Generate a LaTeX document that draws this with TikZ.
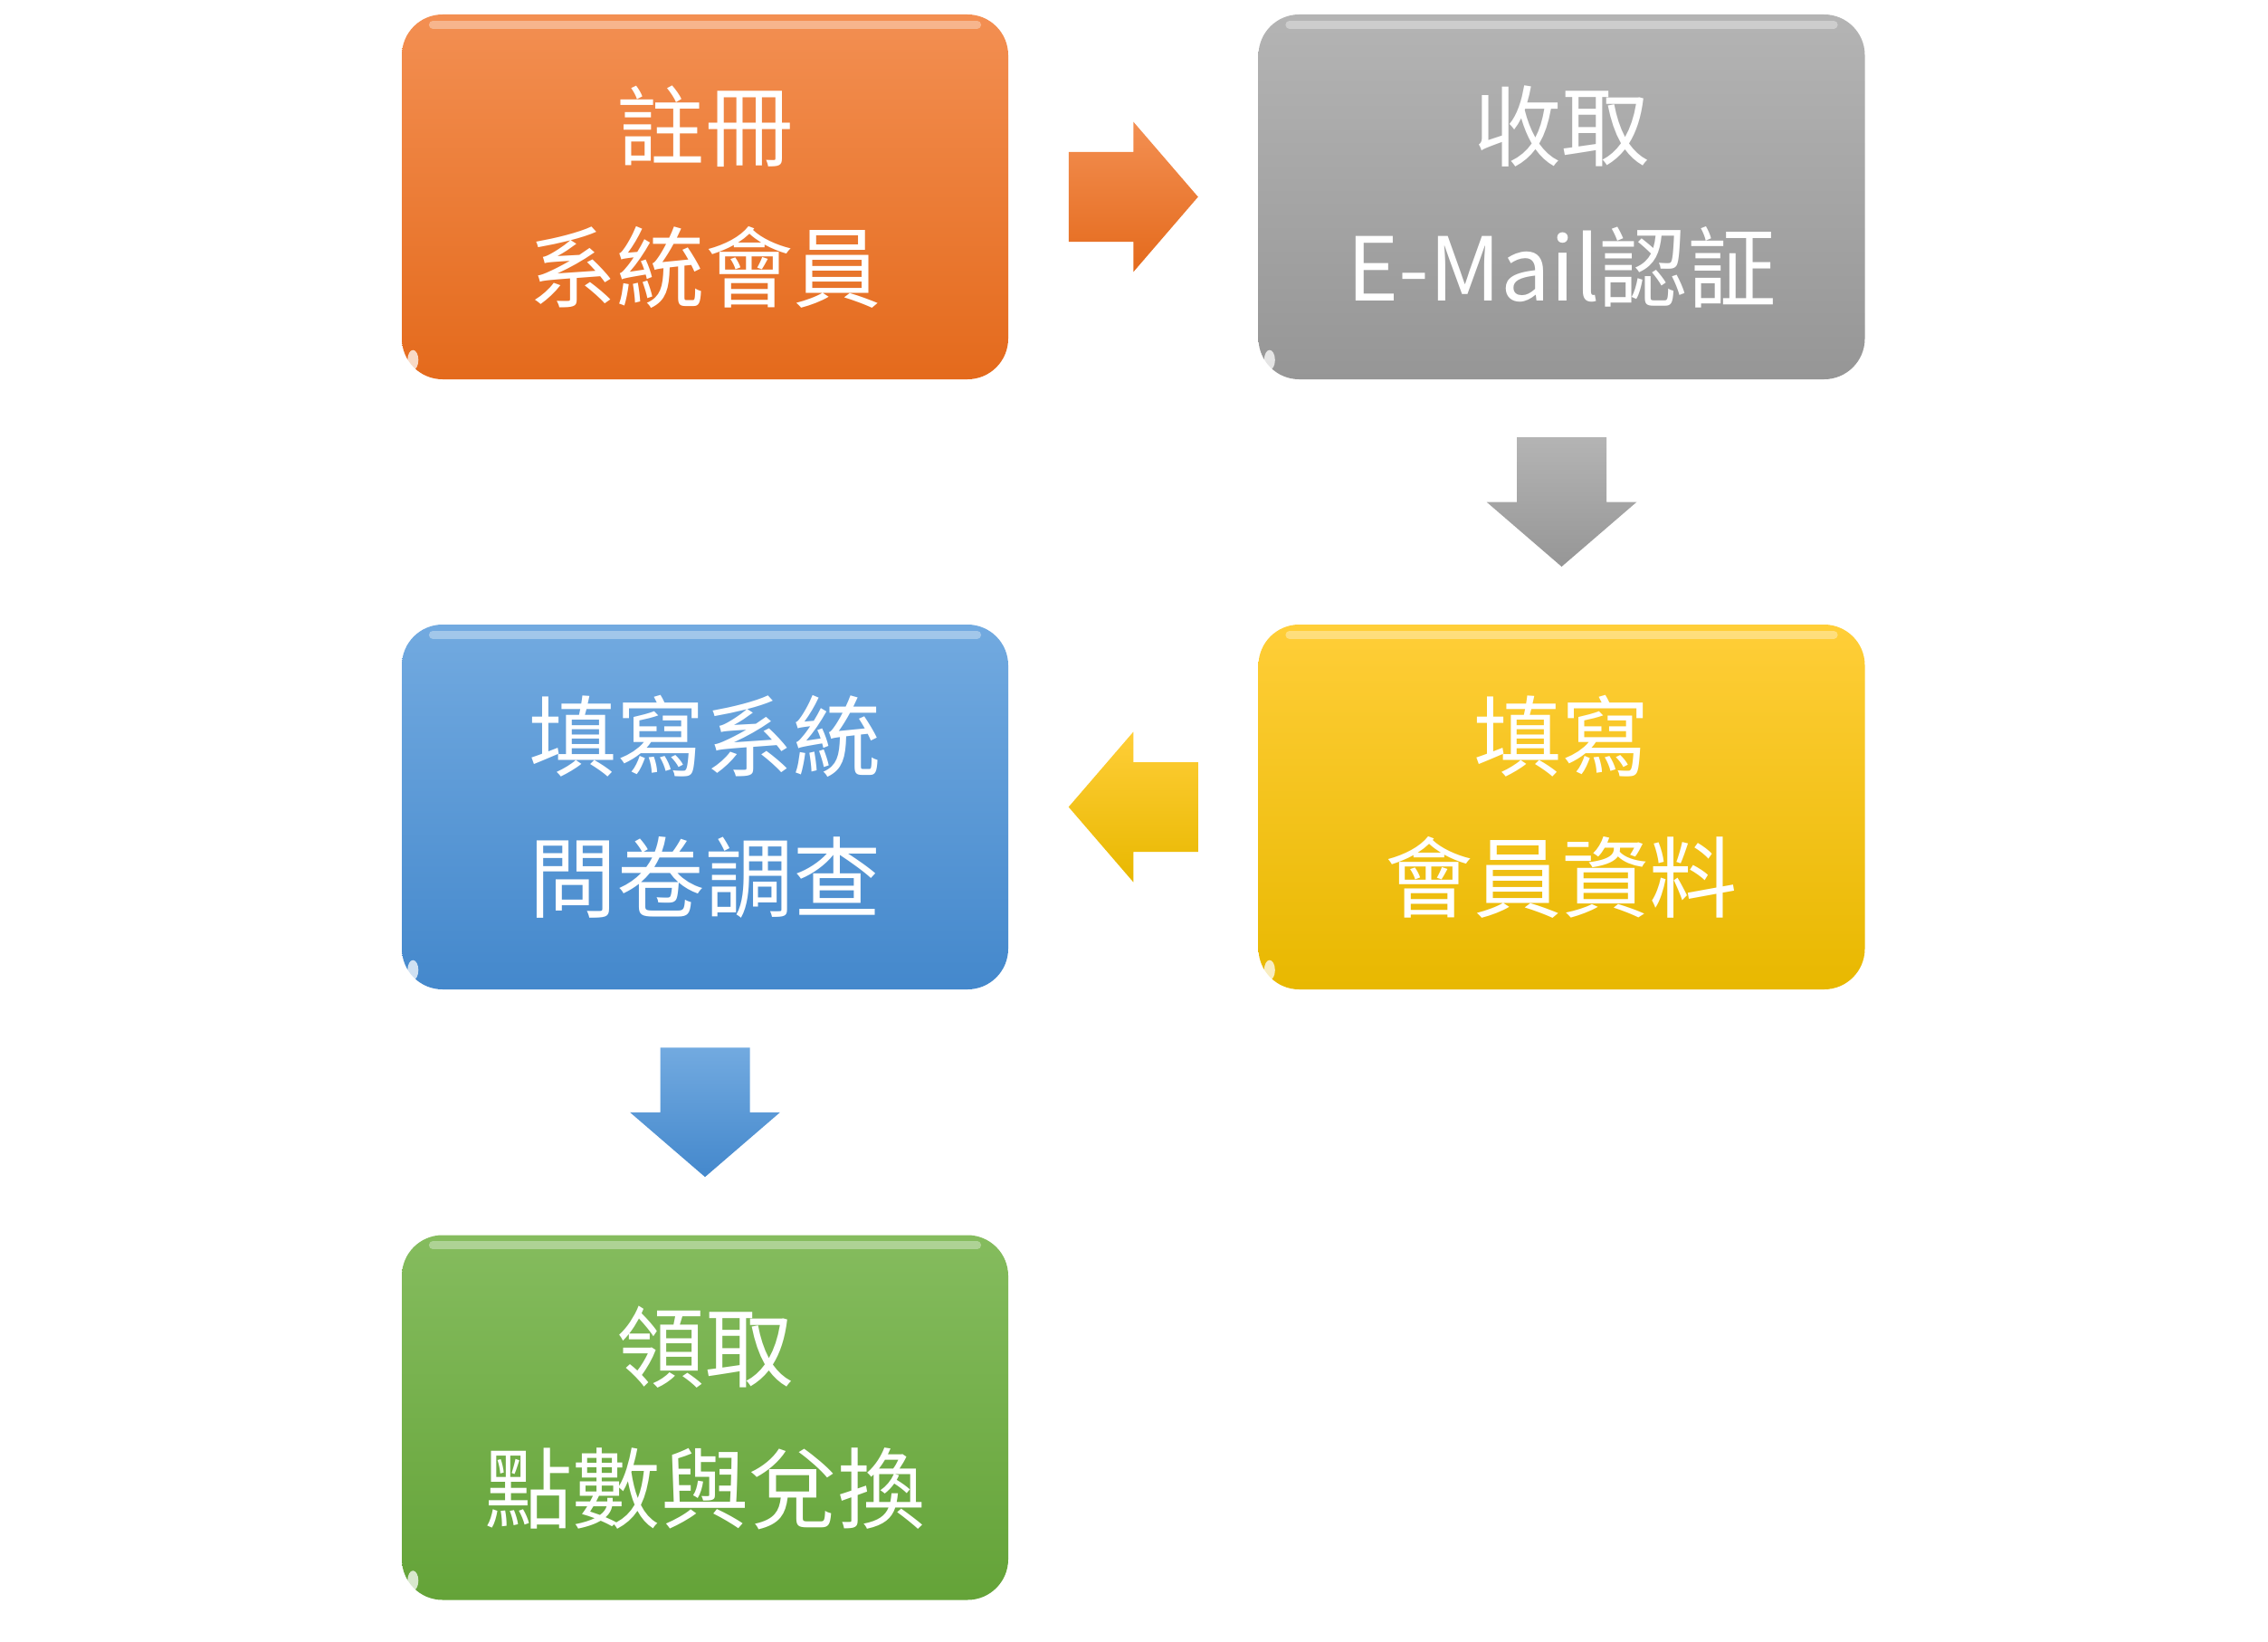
\documentclass[tikz,border=0pt]{standalone}
\usepackage{fontspec}
\newfontfamily\cjk{Noto Sans CJK TC}
\usetikzlibrary{calc}
\tikzset{
  stepbox/.style={shape=rectangle,rounded corners=0.45cm,minimum width=6.7cm,minimum height=4.03cm,
    text=white,align=center,inner sep=0pt,font=\cjk\fontsize{27.7}{44.4}\selectfont},
  blockarrow/.pic={
    \path[pic actions] (-0.715,-0.495) -- (0,-0.495) -- (0,-0.83) -- (0.715,0)
      -- (0,0.83) -- (0,0.495) -- (-0.715,0.495) -- cycle;
  }
}
\begin{document}
\begin{tikzpicture}
\definecolor{orange_top}{RGB}{243,143,82}
\definecolor{orange_bot}{RGB}{228,106,28}
\definecolor{grey_top}{RGB}{180,180,180}
\definecolor{grey_bot}{RGB}{150,150,150}
\definecolor{blue_top}{RGB}{114,170,224}
\definecolor{blue_bot}{RGB}{68,136,204}
\definecolor{yellow_top}{RGB}{255,206,56}
\definecolor{yellow_bot}{RGB}{232,184,0}
\definecolor{green_top}{RGB}{133,188,94}
\definecolor{green_bot}{RGB}{100,163,56}
\useasboundingbox (0,0) rectangle (25.06,-18.13);
\node[stepbox,top color=orange_top,bottom color=orange_bot] (register) at (7.79,-2.175) {註冊\\系統會員};
\node[stepbox,top color=grey_top,bottom color=grey_bot] (mail) at (17.255,-2.175) {收取\\E-Mail認証};
\node[stepbox,top color=yellow_top,bottom color=yellow_bot] (profile) at (17.255,-8.915) {填寫\\會員資料};
\node[stepbox,top color=blue_top,bottom color=blue_bot] (survey) at (7.79,-8.915) {填寫系統\\問卷調查};
\node[stepbox,top color=green_top,bottom color=green_bot] (points) at (7.79,-15.66) {領取\\點數與兌換};
% glossy edges
\foreach \b in {register,mail,profile,survey,points} {
  \draw[white,opacity=0.35,line width=2.5pt,line cap=round] ($(\b.north west)+(0.35,-0.12)$) to ($(\b.north east)+(-0.35,-0.12)$);
  \fill[white,opacity=0.75] ($(\b.south west)+(0.13,0.22)$) ellipse (0.06cm and 0.11cm);
}
\pic[top color=orange_top,bottom color=orange_bot] (a1) at ($(register.east)!0.5!(mail.west)$) {blockarrow};
\pic[rotate=270,top color=grey_top,bottom color=grey_bot] (a2) at ($(mail.south)!0.5!(profile.north)$) {blockarrow};
\pic[rotate=180,top color=yellow_top,bottom color=yellow_bot] (a3) at ($(profile.west)!0.5!(survey.east)$) {blockarrow};
\pic[rotate=270,top color=blue_top,bottom color=blue_bot] (a4) at ($(survey.south)!0.5!(points.north)$) {blockarrow};
\end{tikzpicture}
\end{document}
